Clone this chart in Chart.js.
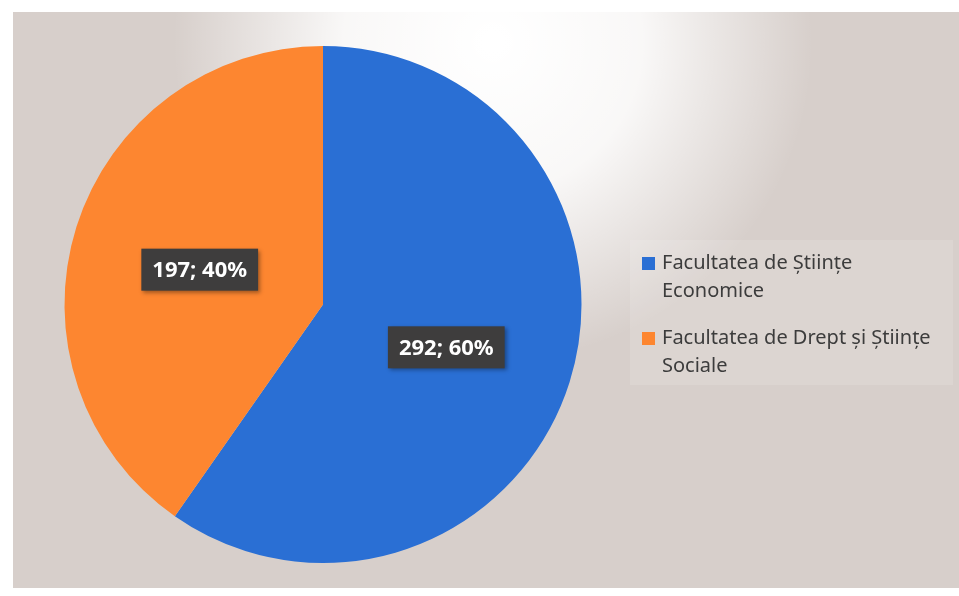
<!DOCTYPE html>
<html>
<head>
<meta charset="utf-8">
<script src="https://cdn.jsdelivr.net/npm/chart.js@4"></script>
<style>
  html, body { margin: 0; padding: 0; background: #fff; }
  #wrap { position: absolute; left: 13px; top: 12px; width: 946px; height: 576px; }
</style>
</head>
<body>
<div id="wrap"><canvas id="facChart"></canvas></div>
<script>
// faculties and student counts
const categories = ["Facultatea de Științe Economice", "Facultatea de Drept și Științe Sociale"];
const counts = [292, 197];
const sliceColors = ["#2a6fd4", "#fd8630"];

const FONT = "'Noto Sans', 'Open Sans', sans-serif";

// paint the scanned-paper background
const paperBg = {
  id: "paperBg",
  beforeDraw(chart) {
    const { ctx, width, height } = chart;
    ctx.save();
    ctx.fillStyle = "#d7cfcb";
    ctx.fillRect(0, 0, width, height);
    const g = ctx.createRadialGradient(480, 30, 10, 480, 30, 320);
    g.addColorStop(0, "rgba(255,255,255,1)");
    g.addColorStop(0.45, "rgba(255,255,255,0.85)");
    g.addColorStop(1, "rgba(255,255,255,0)");
    ctx.fillStyle = g;
    ctx.fillRect(0, 0, width, height);
    ctx.restore();
  }
};

// dark boxes with "value; percent" in the middle of each slice
const sliceLabels = {
  id: "sliceLabels",
  afterDatasetsDraw(chart) {
    const { ctx } = chart;
    const meta = chart.getDatasetMeta(0);
    const total = counts.reduce((a, b) => a + b, 0);
    ctx.save();
    ctx.font = "bold 22px " + FONT;
    ctx.textAlign = "center";
    ctx.textBaseline = "middle";
    meta.data.forEach((arc, i) => {
      const p = arc.tooltipPosition();
      const txt = counts[i] + "; " + Math.round(100 * counts[i] / total) + "%";
      const w = ctx.measureText(txt).width + 22;
      const h = 42;
      const cy = p.y + 4;
      ctx.shadowColor = "rgba(0,0,0,0.35)";
      ctx.shadowBlur = 4;
      ctx.shadowOffsetX = 2;
      ctx.shadowOffsetY = 2;
      ctx.fillStyle = "#3e3d3d";
      ctx.fillRect(p.x - w / 2, cy - h / 2, w, h);
      ctx.shadowColor = "transparent";
      ctx.fillStyle = "#ffffff";
      ctx.fillText(txt, p.x, cy + 1);
    });
    ctx.restore();
  }
};

// legend on the right, wrapped in two lines per entry
const sideLegend = {
  id: "sideLegend",
  afterDraw(chart) {
    const { ctx } = chart;
    const area = chart.chartArea;
    const x0 = area.right + 48;
    ctx.save();
    ctx.fillStyle = "rgba(255,255,255,0.13)";
    ctx.fillRect(x0, 228, 323, 145);
    ctx.font = "20px " + FONT;
    ctx.textBaseline = "middle";
    let y = 251;
    categories.forEach((name, i) => {
      // simple word wrap
      const words = name.split(" ");
      const lines = [];
      let cur = "";
      words.forEach((w) => {
        const test = cur ? cur + " " + w : w;
        if (ctx.measureText(test).width > 285 && cur) {
          lines.push(cur);
          cur = w;
        } else {
          cur = test;
        }
      });
      lines.push(cur);
      ctx.fillStyle = sliceColors[i];
      ctx.fillRect(x0 + 12, y - 6, 13, 13);
      ctx.fillStyle = "#3c3c3c";
      lines.forEach((ln, k) => {
        ctx.fillText(ln, x0 + 32, y + k * 28);
      });
      y += lines.length * 28 + 19;
    });
    ctx.restore();
  }
};

new Chart(document.getElementById("facChart"), {
  type: "pie",
  data: {
    labels: categories,
    datasets: [{
      data: counts,
      backgroundColor: sliceColors,
      borderWidth: 0
    }]
  },
  options: {
    responsive: true,
    maintainAspectRatio: false,
    animation: false,
    layout: {
      padding: { left: 51, top: 34, right: 377, bottom: 25 }
    },
    plugins: {
      legend: { display: false },
      tooltip: { enabled: false }
    }
  },
  plugins: [paperBg, sliceLabels, sideLegend]
});
</script>
</body>
</html>
